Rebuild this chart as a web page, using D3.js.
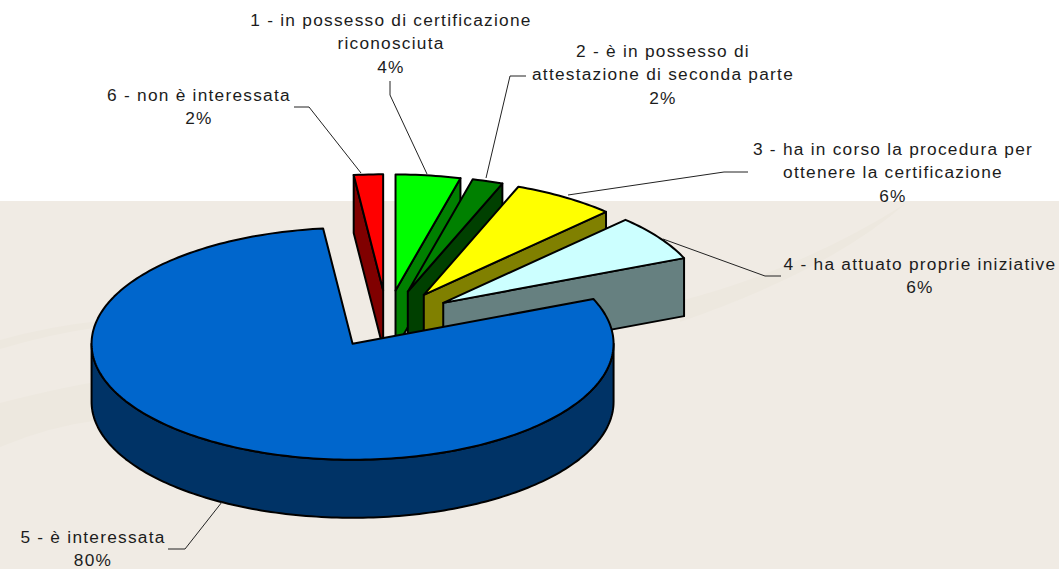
<!DOCTYPE html>
<html>
<head>
<meta charset="utf-8">
<script src="https://cdn.jsdelivr.net/npm/d3@7"></script>
<style>
  html, body { margin: 0; padding: 0; background: #fff; overflow: hidden; }
  text { font-family: "Liberation Sans", Arial, sans-serif; font-size: 17.3px; letter-spacing: 1.25px; fill: #1c1c1c; }
</style>
</head>
<body>
<script>
const categories = [
    '1 - in possesso di certificazione|riconosciuta',
    '2 - è in possesso di|attestazione di seconda parte',
    '3 - ha in corso la procedura per|ottenere la certificazione',
    '4 - ha attuato proprie iniziative',
    '5 - è interessata',
    '6 - non è interessata'
];
const shares = [4.0, 1.9, 6.4, 6.4, 79.5, 1.8];
const topColors = ['#00ff00', '#008000', '#ffff00', '#ccffff', '#0066cc', '#ff0000'];
const wallColors = ['#008000', '#004000', '#808000', '#668080', '#003366', '#800000'];

const width = 1059;
const height = 569;

// pie geometry
const cx = 387, cy = 319;
const rx = 261, ry = 116;
const explodeX = 68, explodeY = 28.7;
const depth = 58;

const svg = d3.select('body')
    .append('svg')
    .attr('width', width)
    .attr('height', height);

// slide background
svg.append('rect').attr('width', width).attr('height', height).attr('fill', '#ffffff');
svg.append('rect').attr('y', 201).attr('width', width).attr('height', height - 201).attr('fill', '#f0ebe4');

// faint swooshes of the background image
const swooshes = [
    'M0,340 Q50,326 100,321 L100,327 Q50,334 0,349 Z',
    'M0,403 Q50,390 100,381 L100,420 Q50,426 0,447 Z',
    'M680,301 Q800,270 905,204 Q830,270 680,322 Z'
];
svg.selectAll('path.swoosh')
    .data(swooshes)
    .join('path')
    .attr('class', 'swoosh')
    .attr('d', d => d)
    .attr('fill', '#ede8df');

const pie = d3.pie().sort(null).value(d => d);
const arcs = pie(shares);

const line = d3.line();

function project(slice, angle, drop) {
    const mid = (slice.startAngle + slice.endAngle) / 2;
    return [
        cx + explodeX * Math.sin(mid) + rx * Math.sin(angle),
        cy - explodeY * Math.cos(mid) - ry * Math.cos(angle) + drop
    ];
}

function apex(slice, drop) {
    const mid = (slice.startAngle + slice.endAngle) / 2;
    return [cx + explodeX * Math.sin(mid), cy - explodeY * Math.cos(mid) + drop];
}

function arcPoints(slice, a0, a1, drop) {
    const steps = Math.max(2, Math.ceil((a1 - a0) / 0.02));
    return d3.range(steps + 1).map(i => project(slice, a0 + (a1 - a0) * i / steps, drop));
}

// red slice goes first, it sits behind everything else
const drawOrder = [5, 0, 1, 2, 3, 4];

drawOrder.forEach(i => {
    const s = arcs[i];
    const g = svg.append('g');
    const wallStyle = sel => sel
        .attr('fill', wallColors[i])
        .attr('stroke', '#000')
        .attr('stroke-width', 2)
        .attr('stroke-linejoin', 'round');

    // cut faces that turn towards the viewer
    if (Math.sin(s.startAngle) < 0) {
        g.append('path').call(wallStyle).attr('d', line([
            apex(s, 0), project(s, s.startAngle, 0), project(s, s.startAngle, depth), apex(s, depth)
        ]) + 'Z');
    }
    if (Math.sin(s.endAngle) > 0) {
        g.append('path').call(wallStyle).attr('d', line([
            apex(s, 0), project(s, s.endAngle, 0), project(s, s.endAngle, depth), apex(s, depth)
        ]) + 'Z');
    }

    // outer rim, only the front half of the ellipse shows
    const a0 = Math.max(s.startAngle, Math.PI / 2);
    const a1 = Math.min(s.endAngle, Math.PI * 1.5);
    if (a1 > a0) {
        const rim = arcPoints(s, a0, a1, 0).concat(arcPoints(s, a0, a1, depth).reverse());
        g.append('path').call(wallStyle).attr('d', line(rim) + 'Z');
    }

    // top face
    g.append('path')
        .attr('fill', topColors[i])
        .attr('stroke', '#000')
        .attr('stroke-width', 2)
        .attr('stroke-linejoin', 'round')
        .attr('d', line([apex(s, 0)].concat(arcPoints(s, s.startAngle, s.endAngle, 0))) + 'Z');
});

// leader lines
const leaders = [
    [[390, 81], [390, 95], [427, 174]],
    [[526, 76], [510, 76], [486, 178]],
    [[748, 172], [724, 172], [568, 195]],
    [[781, 276], [765, 276], [663, 239]],
    [[168, 549], [185, 549], [222, 502]],
    [[294, 107], [309, 107], [361, 173]]
];
svg.selectAll('path.leader')
    .data(leaders)
    .join('path')
    .attr('class', 'leader')
    .attr('d', d => line(d))
    .attr('fill', 'none')
    .attr('stroke', '#222')
    .attr('stroke-width', 1);

// data labels: centre x and baseline of the first line
const labelAnchors = [[391, 26], [663, 57], [893, 155], [920, 270], [93, 543], [199, 101]];
const lineGap = 23.3;

labelAnchors.forEach(([x, y], i) => {
    const rows = categories[i].split('|').concat(Math.round(shares[i]) + '%');
    svg.append('text')
        .attr('text-anchor', 'middle')
        .selectAll('tspan')
        .data(rows)
        .join('tspan')
        .attr('x', x)
        .attr('y', (d, k) => y + k * lineGap)
        .text(d => d);
});
</script>
</body>
</html>
